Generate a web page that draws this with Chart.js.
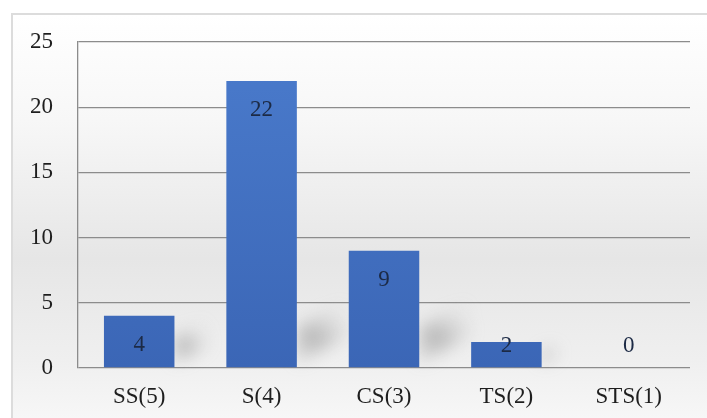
<!DOCTYPE html>
<html>
<head>
<meta charset="utf-8">
<script src="https://cdn.jsdelivr.net/npm/chart.js@4"></script>
<style>
  html, body { margin: 0; padding: 0; background: #ffffff; overflow: hidden; }
  #frame {
    position: absolute; left: 11px; top: 13px; width: 720px; height: 420px;
    border-left: 2px solid #dcdcdc; border-top: 2px solid #dcdcdc;
    background: linear-gradient(180deg, #ffffff 0%, #f7f7f7 25%, #e6e6e6 58%, #efefef 82%, #f9f9f9 100%);
  }
  #wrap { position: absolute; left: 0; top: 0; width: 707px; height: 418px; }
</style>
</head>
<body>
<div id="frame"></div>
<div id="wrap"><canvas id="c" width="707" height="418"></canvas></div>
<script>
const categories = ['SS(5)', 'S(4)', 'CS(3)', 'TS(2)', 'STS(1)'];
const counts = [4, 22, 9, 2, 0];
const yTicks = [0, 5, 10, 15, 20, 25];

const serif = '"Liberation Serif", "Times New Roman", serif';

// Soft diagonal shadow cast behind each bar's lower right corner
const barShadows = {
  id: 'barShadows',
  beforeDatasetsDraw(chart) {
    const ctx = chart.ctx;
    const meta = chart.getDatasetMeta(0);
    ctx.save();
    ctx.filter = 'blur(8px)';
    meta.data.forEach(bar => {
      const h = bar.base - bar.y;
      if (h <= 0) return;
      const right = bar.x + bar.width / 2;
      const len = Math.min(h * 0.6, 48);
      const w = Math.min(h * 0.5, 34);
      const g = ctx.createLinearGradient(right, bar.base, right + len, bar.base - len);
      g.addColorStop(0, 'rgba(150,150,150,0.2)');
      g.addColorStop(0.5, 'rgba(135,135,135,0.5)');
      g.addColorStop(1, 'rgba(170,170,170,0.05)');
      ctx.fillStyle = g;
      ctx.beginPath();
      ctx.moveTo(right, bar.base - 4);
      ctx.lineTo(right, bar.base - 4 - w);
      ctx.lineTo(right + len, bar.base - 4 - w - len * 0.6);
      ctx.lineTo(right + len + 4, bar.base - 4 - len * 0.6);
      ctx.closePath();
      ctx.fill();
    });
    ctx.restore();
  }
};

// Value labels placed just inside the top of each bar
const valueLabels = {
  id: 'valueLabels',
  afterDatasetsDraw(chart) {
    const ctx = chart.ctx;
    const meta = chart.getDatasetMeta(0);
    const zeroY = chart.scales.y.getPixelForValue(0);
    ctx.save();
    ctx.font = '23px ' + serif;
    ctx.fillStyle = '#1c2a45';
    ctx.textAlign = 'center';
    ctx.textBaseline = 'middle';
    meta.data.forEach((bar, i) => {
      const y = Math.min(bar.y + 29, zeroY - 22);
      ctx.fillText(String(counts[i]), bar.x, y);
    });
    ctx.restore();
  }
};

new Chart(document.getElementById('c'), {
  type: 'bar',
  data: {
    labels: categories,
    datasets: [{
      data: counts,
      backgroundColor(context) {
        const chart = context.chart;
        const area = chart.chartArea;
        if (!area) return '#4472c4';
        const g = chart.ctx.createLinearGradient(0, area.top, 0, area.bottom);
        g.addColorStop(0, '#4a7bcc');
        g.addColorStop(1, '#3b66b6');
        return g;
      },
      borderWidth: 0,
      barPercentage: 0.72,
      categoryPercentage: 0.8
    }]
  },
  options: {
    responsive: false,
    animation: false,
    devicePixelRatio: 1,
    layout: { padding: { top: 42, right: 17, left: 0, bottom: 0 } },
    plugins: {
      legend: { display: false },
      tooltip: { enabled: false }
    },
    scales: {
      x: {
        grid: { display: false, drawTicks: false },
        border: { display: false },
        ticks: {
          padding: 15,
          color: '#1e1e1e',
          font: { family: serif, size: 23 }
        },
        afterFit(scale) { scale.height = 50; }
      },
      y: {
        min: 0,
        max: 25,
        afterBuildTicks(scale) { scale.ticks = yTicks.map(v => ({ value: v })); },
        grid: { color: '#8c8c8c', lineWidth: 1.3, drawTicks: false },
        border: { display: true, color: '#8c8c8c', width: 1.3 },
        ticks: {
          padding: 25,
          color: '#1e1e1e',
          font: { family: serif, size: 23 }
        },
        afterFit(scale) { scale.width = 78; }
      }
    }
  },
  plugins: [barShadows, valueLabels]
});
</script>
</body>
</html>
